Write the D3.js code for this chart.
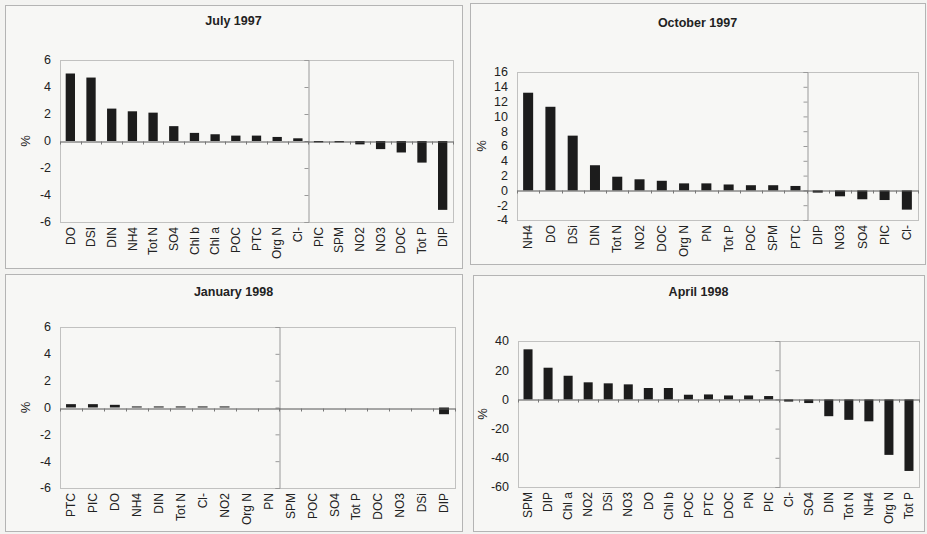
<!DOCTYPE html>
<html><head><meta charset="utf-8">
<script src="https://cdn.jsdelivr.net/npm/d3@7"></script>
<style>
body{margin:0;background:#f3f3f1;}
svg{display:block;font-family:"Liberation Sans",Arial,sans-serif;}
</style></head><body>
<svg id="c" width="927" height="534"></svg>
<script>
const titles = ["July 1997", "October 1997", "January 1998", "April 1998"];

const julyCats = ["DO","DSI","DIN","NH4","Tot N","SO4","Chl b","Chl a","POC","PTC","Org N","Cl-","PIC","SPM","NO2","NO3","DOC","Tot P","DIP"];
const julyVals = [5.0,4.7,2.4,2.2,2.1,1.1,0.6,0.5,0.4,0.4,0.3,0.2,-0.1,-0.1,-0.25,-0.6,-0.85,-1.6,-5.1];
const julyTicks = [-6,-4,-2,0,2,4,6];

const octCats = ["NH4","DO","DSi","DIN","Tot N","NO2","DOC","Org N","PN","Tot P","POC","SPM","PTC","DIP","NO3","SO4","PIC","Cl-"];
const octVals = [13.2,11.3,7.4,3.4,1.85,1.5,1.3,0.95,0.95,0.8,0.7,0.7,0.6,-0.3,-0.8,-1.2,-1.3,-2.6];
const octTicks = [-4,-2,0,2,4,6,8,10,12,14,16];

const janCats = ["PTC","PIC","DO","NH4","DIN","Tot N","Cl-","NO2","Org N","PN","SPM","POC","SO4","Tot P","DOC","NO3","DSi","DIP"];
const janVals = [0.25,0.25,0.2,0.08,0.08,0.08,0.08,0.08,0,0,0,0,0,0,0,0,0,-0.5];
const janTicks = [-6,-4,-2,0,2,4,6];

const aprCats = ["SPM","DIP","Chl a","NO2","DSi","NO3","DO","Chl b","POC","PTC","DOC","PN","PIC","Cl-","SO4","DIN","Tot N","NH4","Org N","Tot P"];
const aprVals = [34.3,21.7,16.2,11.7,11.0,10.3,7.8,7.8,3.2,3.4,2.7,2.7,2.3,-1.5,-2.5,-11.5,-14,-15,-38,-49];
const aprTicks = [-60,-40,-20,0,20,40];

// category at which the value axis crosses
const crossCats = ["PIC","DIP","SPM","Cl-"];

const catsList = [julyCats, octCats, janCats, aprCats];
const valsList = [julyVals, octVals, janVals, aprVals];
const ticksList = [julyTicks, octTicks, janTicks, aprTicks];

// layout (positions only)
const layout = [
  {box:[5,5,457,263],   plot:[60,60,453,222],  titleY:21,  pctX:25},
  {box:[470,3,455,261], plot:[517,72,918,220], titleY:23,  pctX:481},
  {box:[5,274,457,257], plot:[60,327,455,488], titleY:292, pctX:25},
  {box:[473,275,451,256], plot:[518,341,919,487], titleY:292, pctX:482}
];

const svg = d3.select("#c");

layout.forEach((L, i) => {
  const cats = catsList[i], vals = valsList[i], ticks = ticksList[i];
  const [bx, by, bw, bh] = L.box;
  const [x0, y0, x1, y1] = L.plot;
  const g = svg.append("g");

  g.append("rect").attr("x", bx + 0.5).attr("y", by + 0.5).attr("width", bw).attr("height", bh)
    .attr("fill", "#f7f7f5").attr("stroke", "#b4b4b4").attr("stroke-width", 1);

  g.append("text").attr("x", bx + bw / 2).attr("y", L.titleY).attr("dy", "0.35em")
    .attr("text-anchor", "middle").attr("font-weight", "bold").attr("font-size", 12.5)
    .attr("fill", "#222").text(titles[i]);

  const x = d3.scaleBand().domain(cats).range([x0, x1]).paddingInner(0.55).paddingOuter(0.275);
  const y = d3.scaleLinear().domain(d3.extent(ticks)).range([y1, y0]);

  g.append("rect").attr("x", x0 + 0.5).attr("y", y0 + 0.5).attr("width", x1 - x0).attr("height", y1 - y0)
    .attr("fill", "none").attr("stroke", "#8a8a8a").attr("stroke-dasharray", "1,1");

  g.selectAll(".yl").data(ticks).join("text")
    .attr("x", x0 - 9).attr("y", d => y(d)).attr("dy", "0.35em")
    .attr("text-anchor", "end").attr("font-size", 12.5).attr("fill", "#222")
    .text(d => d);

  g.append("text").attr("transform", `translate(${L.pctX},${(y0 + y1) / 2}) rotate(-90)`)
    .attr("text-anchor", "middle").attr("dy", "0.35em").attr("font-size", 13).attr("fill", "#222").text("%");

  const xc = Math.round(x(crossCats[i]) - x.step() * x.paddingInner() / 2) + 0.5;
  const yAx = d3.axisLeft(y).tickValues(ticks).tickSize(4).tickFormat("");
  const ya = g.append("g").attr("transform", `translate(${xc},0)`).call(yAx);
  ya.select(".domain").attr("stroke", "#999");
  ya.selectAll(".tick line").attr("stroke", "#999");

  g.selectAll(".bar").data(cats.map((c, k) => ({c, v: vals[k]}))).join("rect")
    .attr("x", d => x(d.c)).attr("width", x.bandwidth())
    .attr("y", d => Math.min(y(d.v), y(0))).attr("height", d => Math.abs(y(d.v) - y(0)))
    .attr("fill", "#1c1c1c");

  const xAx = d3.axisBottom(x).tickSize(0).tickFormat("");
  const xa = g.append("g").attr("transform", `translate(0,${Math.round(y(0)) + 0.5})`).call(xAx);
  xa.select(".domain").attr("stroke", "#555");
  const bounds = d3.range(cats.length + 1).map(k => x0 + k * x.step());
  g.selectAll(".ct").data(bounds).join("line")
    .attr("x1", d => Math.round(d) + 0.5).attr("x2", d => Math.round(d) + 0.5)
    .attr("y1", Math.round(y(0)) + 0.5).attr("y2", Math.round(y(0)) + 3.5)
    .attr("stroke", "#777");

  g.selectAll(".cl").data(cats).join("text")
    .attr("transform", d => `translate(${x(d) + x.bandwidth() / 2},${y1 + 5}) rotate(-90)`)
    .attr("text-anchor", "end").attr("dy", "0.35em").attr("font-size", 12).attr("fill", "#222")
    .text(d => d);
});
</script>
</body></html>
